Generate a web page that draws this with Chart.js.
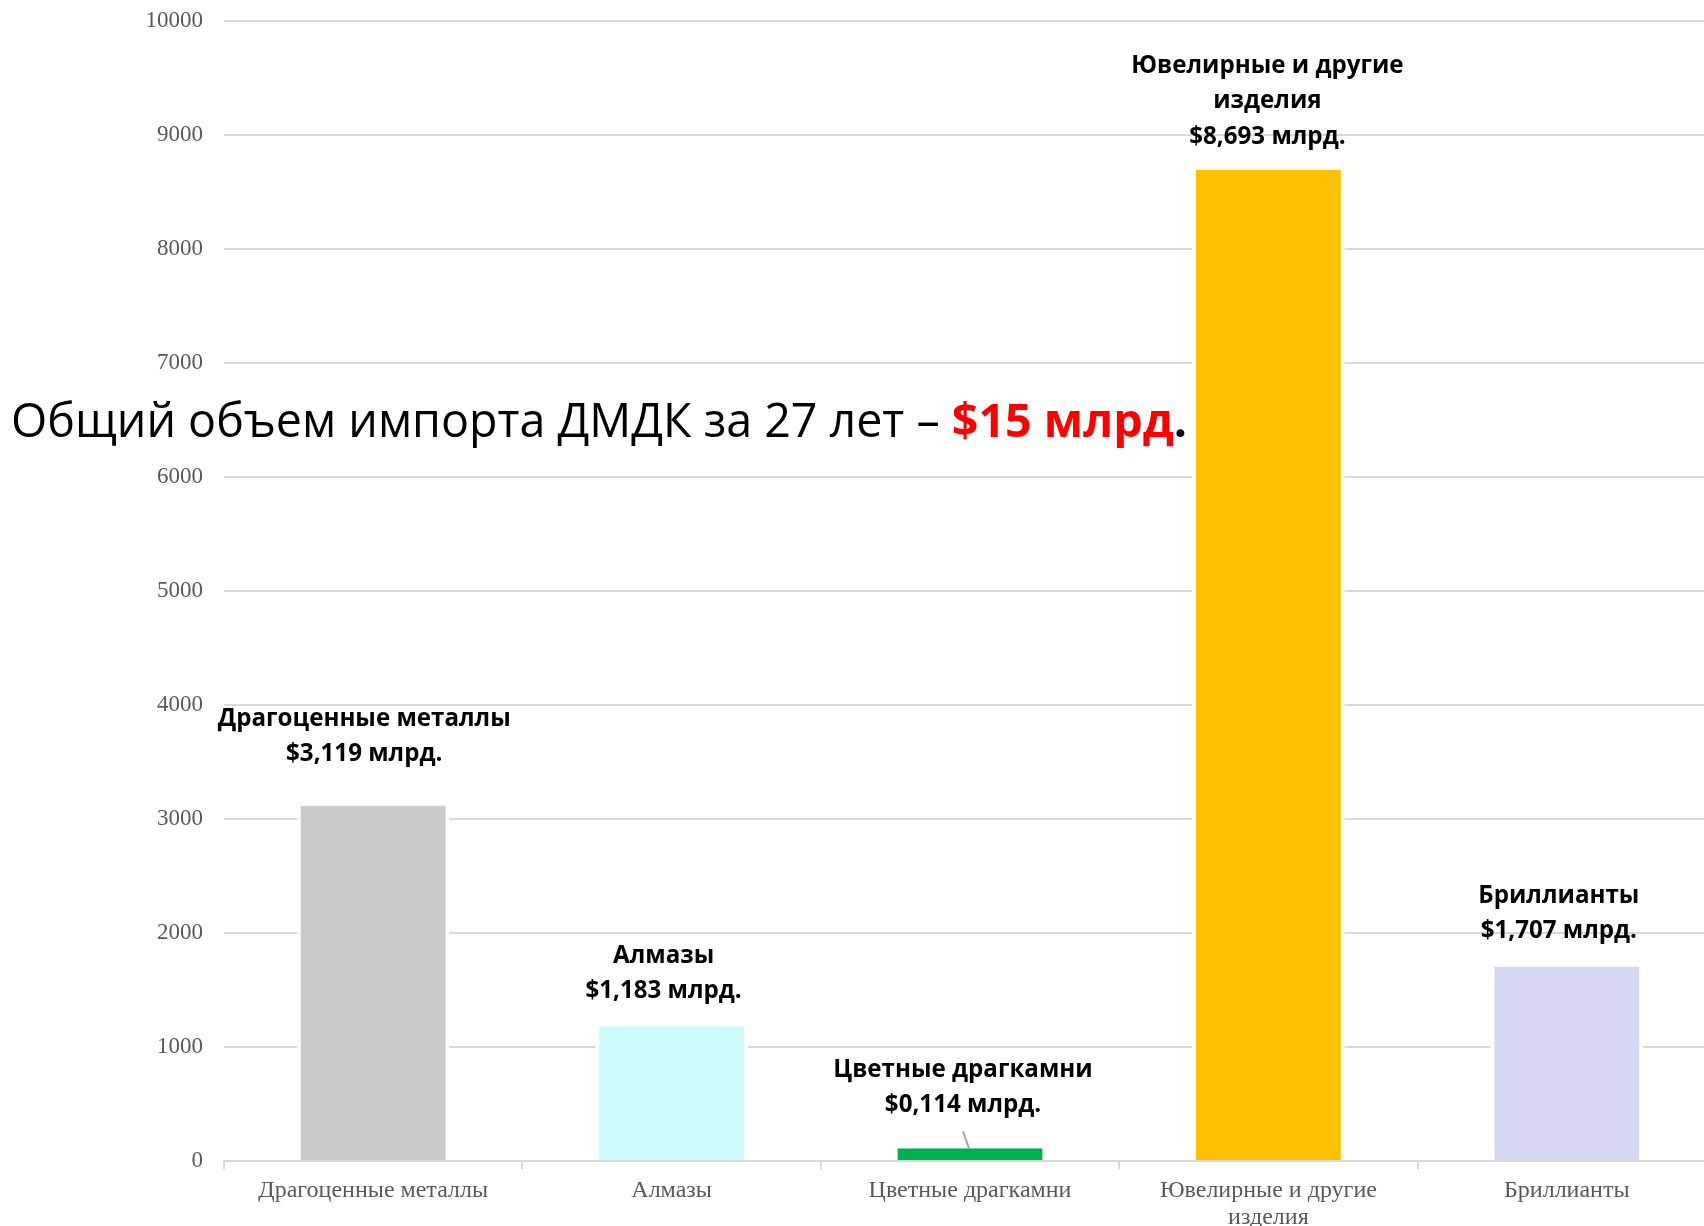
<!DOCTYPE html>
<html><head><meta charset="utf-8">
<script src="https://cdn.jsdelivr.net/npm/chart.js@4.4.1/dist/chart.umd.min.js"></script>
<style>
html,body{margin:0;padding:0;background:#fff;overflow:hidden;width:1704px;height:1226px}
#wrap{position:absolute;left:0;top:0;width:1716px;height:1226px}
</style></head><body>
<div id="wrap"><canvas id="c" width="1716" height="1226"></canvas></div>
<script>
// ---- data ----
const categories = ['Драгоценные металлы', 'Алмазы', 'Цветные драгкамни', ['Ювелирные и другие', 'изделия'], 'Бриллианты'];
const values = [3119, 1183, 114, 8693, 1707];
const barColors = ['#cacaca', '#ccfcfc', '#00b050', '#ffc000', '#d6d7f4'];
const yMin = 0, yMax = 10000, yStep = 1000;
const titleText = 'Общий объем импорта ДМДК за 27 лет – ';
const titleHighlight = '$15 млрд';
const titleEnd = '.';

function fmtValue(v) { return '$' + (v / 1000).toFixed(3).replace('.', ',') + ' млрд.'; }

// ---- layout tweaks for annotation placement (not data) ----
const labelDx = [-9, -8, -7, -1, -8];
const labelDy = [51, 35, 43, 33, 35];

const LABEL_FONT = '"Open Sans", "Noto Sans", sans-serif';
const AXIS_FONT = '"Liberation Serif", "DejaVu Serif", serif';

function fitSize(ctx, text, weight, family, target) {
  ctx.font = weight + ' 100px ' + family;
  return 100 * target / ctx.measureText(text).width;
}

const annotations = {
  id: 'annotations',
  afterDatasetsDraw(chart) {
    const ctx = chart.ctx;
    const meta = chart.getDatasetMeta(0);
    ctx.save();
    const size = fitSize(ctx, 'Драгоценные металлы', 'bold', LABEL_FONT, 293);
    ctx.font = 'bold ' + size.toFixed(2) + 'px ' + LABEL_FONT;
    ctx.fillStyle = '#000';
    ctx.textAlign = 'center';
    ctx.textBaseline = 'middle';
    const lh = 35.5;
    meta.data.forEach((bar, i) => {
      const name = categories[i];
      const lines = (Array.isArray(name) ? name.slice() : [name]);
      lines.push(fmtValue(values[i]));
      const cx = bar.x + labelDx[i];
      const lastY = bar.y - labelDy[i];
      lines.forEach((t, j) => ctx.fillText(t, cx, lastY - (lines.length - 1 - j) * lh));
      if (values[i] < 500) {
        ctx.strokeStyle = '#a6a6a6';
        ctx.lineWidth = 2;
        ctx.beginPath();
        ctx.moveTo(bar.x - 7, bar.y - 17);
        ctx.lineTo(bar.x - 1, bar.y);
        ctx.stroke();
      }
    });
    // title
    const a = titleText, b = titleHighlight, c = titleEnd;
    ctx.font = 'normal 100px ' + LABEL_FONT;
    let w = ctx.measureText(a).width;
    ctx.font = 'bold 100px ' + LABEL_FONT;
    w += ctx.measureText(b + c).width;
    const ts = 100 * 1176 / w;
    let x = 11;
    const y = 437;
    ctx.textAlign = 'left';
    ctx.textBaseline = 'alphabetic';
    ctx.font = 'normal ' + ts.toFixed(2) + 'px ' + LABEL_FONT;
    ctx.fillStyle = '#000';
    ctx.fillText(a, x, y);
    x += ctx.measureText(a).width;
    ctx.font = 'bold ' + ts.toFixed(2) + 'px ' + LABEL_FONT;
    ctx.fillStyle = '#ff0000';
    ctx.fillText(b, x, y);
    x += ctx.measureText(b).width;
    ctx.fillStyle = '#000';
    ctx.fillText(c, x, y);
    ctx.restore();
  }
};

new Chart(document.getElementById('c'), {
  type: 'bar',
  data: {
    labels: categories,
    datasets: [{
      data: values,
      backgroundColor: barColors,
      borderColor: '#ffffff',
      borderWidth: { left: 4, right: 4, top: 0, bottom: 0 },
      borderSkipped: false,
      barPercentage: 0.512,
      categoryPercentage: 1
    }]
  },
  options: {
    responsive: false,
    animation: false,
    devicePixelRatio: 1,
    layout: { padding: { top: 20.6, left: 0, right: 0, bottom: 0 } },
    plugins: { legend: { display: false }, tooltip: { enabled: false }, title: { display: false } },
    scales: {
      x: {
        offset: true,
        grid: { display: true, offset: true, drawOnChartArea: false, drawTicks: true, tickLength: 8, color: '#d9d9d9', lineWidth: 2 },
        border: { display: true, color: '#d9d9d9', width: 2 },
        ticks: { color: '#595959', font: { family: AXIS_FONT, size: 24, lineHeight: 27 / 24 }, padding: 8, maxRotation: 0, autoSkip: false },
        afterFit(scale) { scale.height = 64.7; scale.paddingLeft = 0; scale.paddingRight = 0; }
      },
      y: {
        min: yMin, max: yMax,
        grid: { color: '#d9d9d9', lineWidth: 2, drawTicks: false },
        border: { display: false },
        ticks: { stepSize: yStep, color: '#595959', font: { family: AXIS_FONT, size: 23 }, padding: 21,
                 callback: (v) => String(v) },
        afterFit(scale) { scale.width = 224; scale.paddingTop = 0; scale.paddingBottom = 0; }
      }
    }
  },
  plugins: [annotations]
});
</script>
</body></html>
